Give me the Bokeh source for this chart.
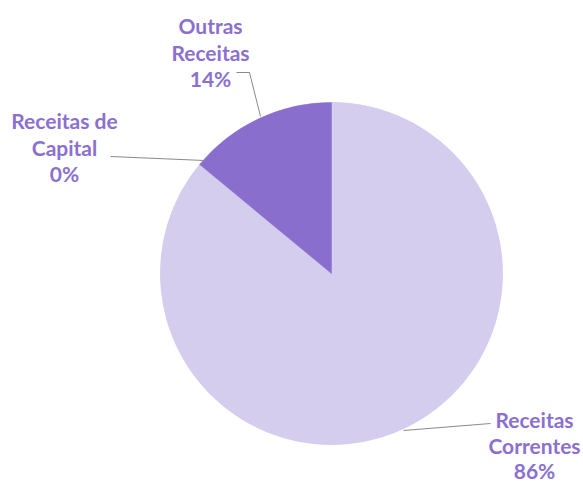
import math
from bokeh.plotting import figure
from bokeh.models import Range1d, ColumnDataSource
from bokeh.core.properties import value
from bokeh.embed import file_html
from bokeh.resources import INLINE

# Data
categories = ["Receitas Correntes", "Receitas de Capital", "Outras Receitas"]
shares = [86.0, 0.0, 14.0]
pct_labels = ["86%", "0%", "14%"]
label_lines = [["Receitas", "Correntes"], ["Receitas de", "Capital"], ["Outras", "Receitas"]]
colors = ["#d4cdee", "#d4cdee", "#896ecd"]

W, H = 583, 485
p = figure(width=W, height=H, output_backend="svg", toolbar_location=None,
           x_range=Range1d(0, W), y_range=Range1d(0, H),
           min_border=0, outline_line_color=None)
p.axis.visible = False
p.grid.visible = False
p.background_fill_color = "white"
p.border_fill_color = "white"

cx, cy, r = 331, 485 - 273, 171
total = sum(shares)
starts, ends = [], []
cum = 0.0
for s in shares:
    starts.append(math.pi / 2 - 2 * math.pi * cum / total)
    cum += s
    ends.append(math.pi / 2 - 2 * math.pi * cum / total)

src = ColumnDataSource(dict(start=starts, end=ends, color=colors, cat=categories))
p.wedge(x=cx, y=cy, radius=r, start_angle="start", end_angle="end", direction="clock",
        fill_color="color", line_color="color", line_width=0.5, source=src)

def Y(v):
    return 485 - v

leaders = [
    ([403, 490], [Y(430), Y(423)]),
    ([110, 204], [Y(156), Y(160)]),
    ([236, 249, 260], [Y(72), Y(72), Y(116)]),
]
for xs, ys in leaders:
    p.line(xs, ys, line_color="#8a8a8a", line_width=1)

label_pos = [(534, 419), (64, 120), (210, 25)]
label_gap = [25.5, 26.5, 26.5]
txt_x, txt_y, txt = [], [], []
for (lx, ly), gap, lines, pct in zip(label_pos, label_gap, label_lines, pct_labels):
    for i, t in enumerate(lines + [pct]):
        txt_x.append(lx)
        txt_y.append(Y(ly + i * gap))
        txt.append(t)

p.text(x=txt_x, y=txt_y, text=txt, text_align="center", text_baseline="middle",
       text_font=value("Lato"), text_font_style="bold", text_font_size="21px",
       text_color="#8b70d0")

open("out.html", "w").write(file_html(p, INLINE))
